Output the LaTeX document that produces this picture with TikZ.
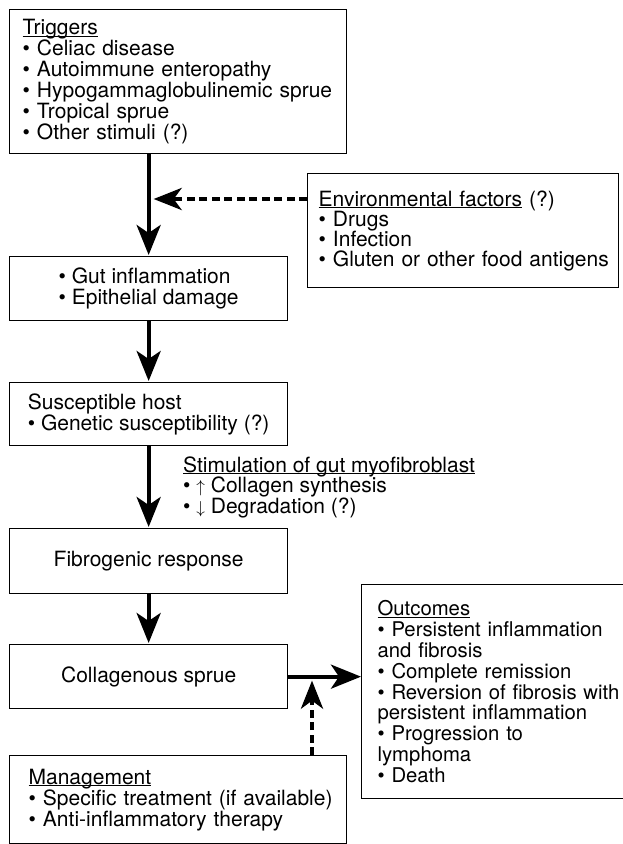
\documentclass[tikz,border=0pt]{standalone}
\usepackage{fontspec}
\setmainfont{TeX Gyre Heros}
\usetikzlibrary{arrows.meta,calc}
\newcommand\myul[1]{\sbox0{#1}\rlap{\rule[-2.2pt]{\wd0}{0.9pt}}\usebox0}
\newcommand\smarr[1]{{\fontsize{16}{16}\selectfont$#1$}}
\newcommand\lne[1]{\mbox{#1}}
\begin{document}
\begin{tikzpicture}[x=1pt,y=-1pt,
  box/.style={draw, line width=1.3pt, anchor=north west, inner ysep=0pt,
    font=\fontsize{21}{21}\selectfont},
  lbl/.style={inner sep=0pt, align=left, font=\fontsize{21}{20.5}\selectfont},
  mainarr/.style={line width=4pt, -{Stealth[length=30pt,width=24pt,inset=8pt]}},
  dasharr/.style={line width=4pt, dash pattern=on 8pt off 4.5pt,
    -{Stealth[length=28pt,width=22pt,inset=8pt]}}]
\clip (0,0) rectangle (623,844);
\fill[white] (0,0) rectangle (623,844);

\node[box, minimum width=337pt, minimum height=144pt, inner xsep=13pt, text width=311pt, align=left] (trig) at (9,9)
  {\myul{Triggers}\\ \lne{• Celiac disease}\\ \lne{• Autoimmune enteropathy}\\ \lne{• Hypogammaglobulinemic sprue}\\ \lne{• Tropical sprue}\\ \lne{• Other stimuli (?)}};

\node[box, minimum width=311pt, minimum height=114pt, inner xsep=11pt, text width=289pt, align=left,
  font=\fontsize{21}{20}\selectfont] (env) at (307,173)
  {\lne{\myul{Environmental factors} (?)}\\ \lne{• Drugs}\\ \lne{• Infection}\\ \lne{• Gluten or other food antigens}};

\node[box, minimum width=278pt, minimum height=64pt, align=left] (gut) at (9,256)
  {• Gut inflammation\\ • Epithelial damage};

\node[box, minimum width=278pt, minimum height=63pt, align=left] (host) at (9,382)
  {Susceptible host\\ • Genetic susceptibility (?)};

\node[lbl, anchor=west] (stim) at (183,487)
  {\myul{Stimulation of gut myofibroblast}\\ • \smarr{\uparrow} Collagen synthesis\\ • \smarr{\downarrow} Degradation (?)};

\node[box, minimum width=278pt, minimum height=65pt] (fib) at (9,528) {Fibrogenic response};

\node[box, minimum width=278pt, minimum height=64pt] (col) at (9,644) {Collagenous sprue};

\node[box, minimum width=292pt, minimum height=214pt, inner xsep=16pt, text width=260pt, align=left,
  font=\fontsize{20.3}{20.8}\selectfont] (out) at (361,584)
  {\myul{Outcomes}\\ \lne{• Persistent inflammation}\\ and fibrosis\\ \lne{• Complete remission}\\ \lne{• Reversion of fibrosis with}\\ \lne{persistent inflammation}\\ \lne{• Progression to}\\ lymphoma\\ • Death};

\node[box, minimum width=337pt, minimum height=88pt, inner xsep=19pt, text width=299pt, align=left] (mgmt) at (9,755)
  {\myul{Management}\\ \lne{• Specific treatment (if available)}\\ \lne{• Anti-inflammatory therapy}};

\coordinate (envin) at ($(env.north west)+(0,26)$);
\coordinate (mgtop) at ($(mgmt.north west)+(303,0)$);

\draw[mainarr, shorten >=1pt] (gut.north |- trig.south) -- (gut.north);
\draw[dasharr, shorten >=5pt] (envin) -- (envin -| gut.north);
\draw[mainarr, shorten >=1pt] (gut.south) -- (host.north);
\draw[mainarr, shorten >=1pt] (host.south) -- (fib.north);
\draw[mainarr, shorten >=1pt] (fib.south) -- (col.north);
\draw[mainarr] (col.east) -- (col.east -| out.west);
\draw[dasharr, shorten >=4pt] (mgtop) -- (mgtop |- col.east);
\end{tikzpicture}
\end{document}
